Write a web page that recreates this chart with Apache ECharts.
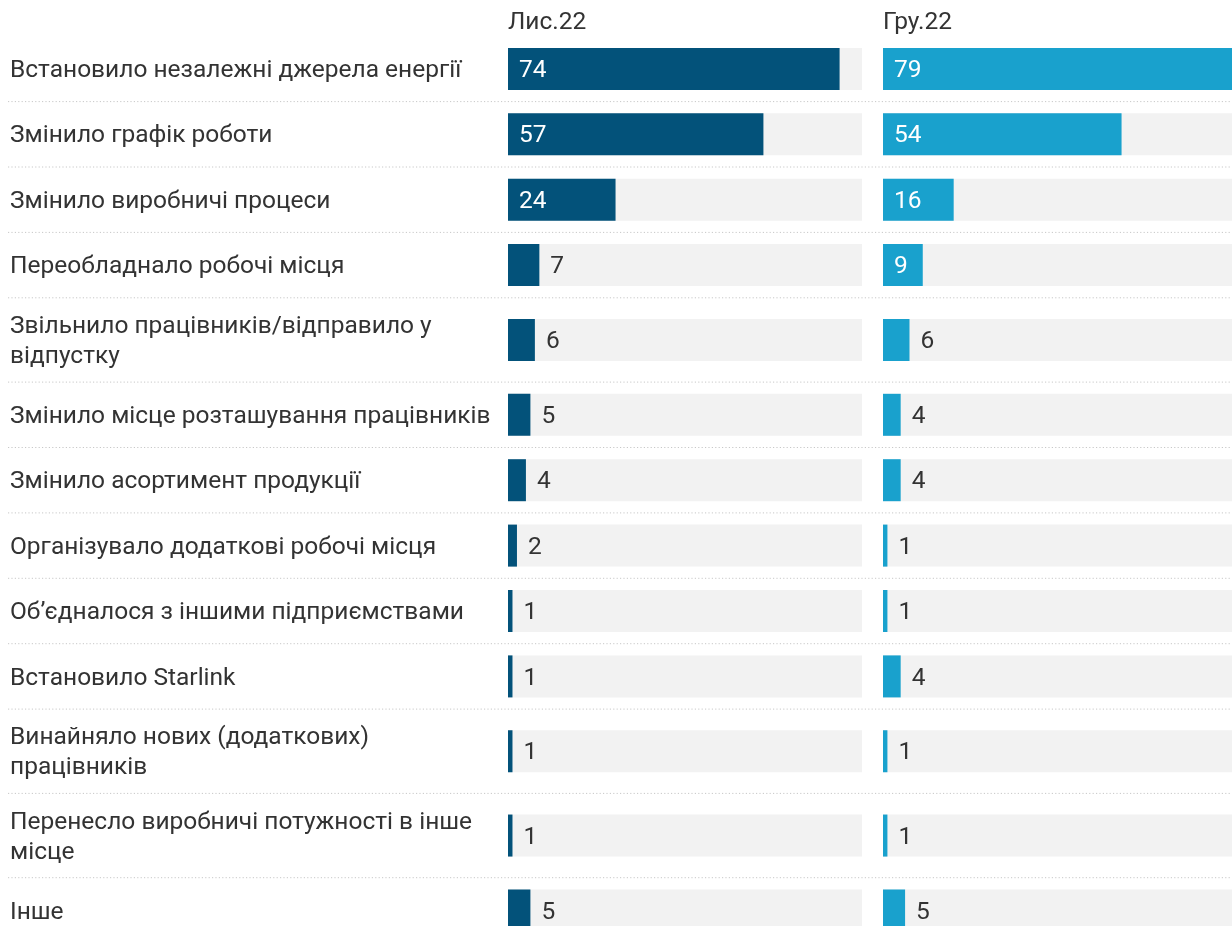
<!DOCTYPE html>
<html>
<head>
<meta charset="utf-8">
<script src="https://cdn.jsdelivr.net/npm/echarts@6/dist/echarts.min.js"></script>
<style>
  html, body { margin: 0; padding: 0; background: #fff; }
  #chart { width: 1232px; height: 926px; }
</style>
</head>
<body>
<div id="chart"></div>
<script>
// категорії (перенос рядка - як у підписах оригіналу)
var categories = [
  'Встановило незалежні джерела енергії',
  'Змінило графік роботи',
  'Змінило виробничі процеси',
  'Переобладнало робочі місця',
  'Звільнило працівників/відправило у\nвідпустку',
  'Змінило місце розташування працівників',
  'Змінило асортимент продукції',
  'Організувало додаткові робочі місця',
  'Об’єдналося з іншими підприємствами',
  'Встановило Starlink',
  'Винайняло нових (додаткових)\nпрацівників',
  'Перенесло виробничі потужності в інше\nмісце',
  'Інше'
];
var periods = ['Лис.22', 'Гру.22'];
var valuesNov = [74, 57, 24, 7, 6, 5, 4, 2, 1, 1, 1, 1, 5];
var valuesDec = [79, 54, 16, 9, 6, 4, 4, 1, 1, 4, 1, 1, 5];

var ROW_PX = 65.4;        // висота однорядкового рядка
var EXTRA_LINE = 0.289;   // додаток на кожен наступний рядок підпису
var BAR_H = 42;
var TOP = 36.2;
var TXT_DY = 2;           // текст трохи нижче геометричного центру
var INSIDE_MIN = 9;       // з якого значення підпис всередині смуги
var FONT = 'Roboto, "Noto Sans", sans-serif';
var FS = 24.5;

var xMax = Math.max.apply(null, valuesNov.concat(valuesDec));

// позиції рядків у "одиницях" рядка
var rowUnits = categories.map(function (c) { return 1 + EXTRA_LINE * (c.split('\n').length - 1); });
var rowCenter = [];
var acc = 0;
rowUnits.forEach(function (u) { rowCenter.push(acc + u / 2); acc += u; });

function makeData(vals) {
  return vals.map(function (v, i) { return [v, rowCenter[i], rowUnits[i]]; });
}

function renderPanel(color, withLabels) {
  return function (params, api) {
    var i = params.dataIndex;
    var v = api.value(0), c = api.value(1), u = api.value(2);
    var p0 = api.coord([0, c]);
    var p1 = api.coord([v, c]);
    var pMax = api.coord([xMax, c]);
    var y = p0[1];
    var kids = [
      { type: 'rect', shape: { x: p0[0], y: y - BAR_H / 2, width: pMax[0] - p0[0], height: BAR_H },
        style: { fill: '#f2f2f2' } },
      { type: 'rect', shape: { x: p0[0], y: y - BAR_H / 2, width: p1[0] - p0[0], height: BAR_H },
        style: { fill: color } }
    ];
    var inside = v >= INSIDE_MIN;
    kids.push({
      type: 'text',
      style: {
        text: String(v), x: inside ? p0[0] + 11 : p1[0] + 11, y: y + TXT_DY,
        fill: inside ? '#fff' : '#333', font: FS + 'px ' + FONT,
        align: 'left', verticalAlign: 'middle'
      }
    });
    if (withLabels) {
      kids.push({
        type: 'text',
        style: {
          text: categories[i], x: 10, y: y + TXT_DY, fill: '#333',
          font: FS + 'px ' + FONT, lineHeight: 30,
          align: 'left', verticalAlign: 'middle'
        }
      });
      var yb = api.coord([0, c + u / 2])[1];
      kids.push({
        type: 'line',
        shape: { x1: 8, y1: yb, x2: api.getWidth(), y2: yb },
        style: { stroke: '#c8c8c8', lineWidth: 1, lineDash: [1.2, 2.2] }
      });
    }
    return { type: 'group', children: kids };
  };
}

var chart = echarts.init(document.getElementById('chart'));
// видима частина осі: від верху сітки до низу полотна
var yMax = (chart.getHeight() - TOP) / ROW_PX;
var option = {
  animation: false,
  title: [
    { text: periods[0], left: 508, top: 10, padding: 0, textStyle: { fontFamily: FONT, fontSize: FS, fontWeight: 'normal', color: '#333' } },
    { text: periods[1], left: 883, top: 10, padding: 0, textStyle: { fontFamily: FONT, fontSize: FS, fontWeight: 'normal', color: '#333' } }
  ],
  grid: [
    { left: 508, width: 354, top: TOP, bottom: 0 },
    { left: 883, width: 354, top: TOP, bottom: 0 }
  ],
  xAxis: [
    { gridIndex: 0, type: 'value', min: 0, max: xMax, show: false },
    { gridIndex: 1, type: 'value', min: 0, max: xMax, show: false }
  ],
  yAxis: [
    { gridIndex: 0, type: 'value', min: 0, max: yMax, inverse: true, show: false },
    { gridIndex: 1, type: 'value', min: 0, max: yMax, inverse: true, show: false }
  ],
  series: [
    { type: 'custom', name: periods[0], xAxisIndex: 0, yAxisIndex: 0, silent: true,
      renderItem: renderPanel('#03527a', true), data: makeData(valuesNov), z: 1 },
    { type: 'custom', name: periods[1], xAxisIndex: 1, yAxisIndex: 1, silent: true,
      renderItem: renderPanel('#19a1cd', false), data: makeData(valuesDec), z: 2 }
  ]
};
chart.setOption(option);
</script>
</body>
</html>
